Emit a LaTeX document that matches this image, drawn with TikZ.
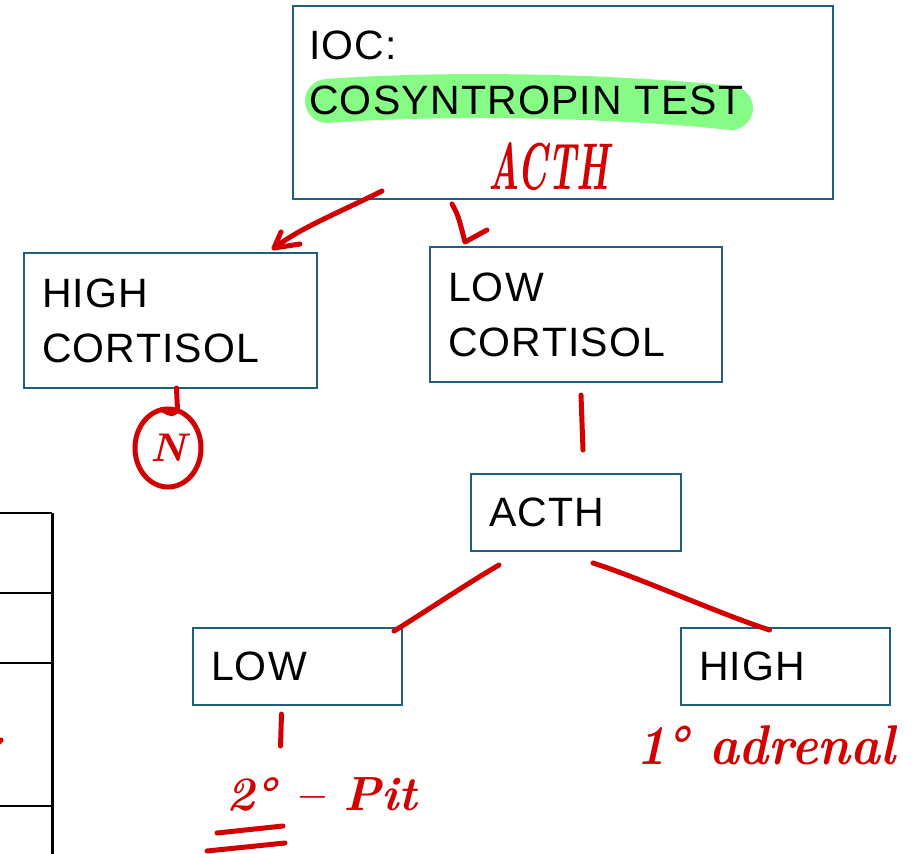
\documentclass[tikz,border=0pt]{standalone}
\usepackage{fontspec}
\usepackage{graphicx}
\usepackage{tikz,xcolor}
\usetikzlibrary{shapes.geometric,calc}
\newfontfamily\boxfont[LetterSpace=3]{Liberation Sans}
\definecolor{boxblue}{RGB}{31,94,124}
\definecolor{inkred}{RGB}{210,0,0}
\definecolor{hlgreen}{RGB}{134,252,134}

\begin{document}
\begin{tikzpicture}[x=1pt,y=-1pt,
  box/.style={draw=boxblue, line width=2pt, anchor=north west, inner xsep=18pt, inner ysep=0pt, align=left,
    font=\boxfont\fontsize{41}{55}\selectfont},
  ink/.style={draw=inkred, line width=5pt, line cap=round, line join=round},
  hand/.style={text=inkred, inner sep=0pt, font=\bfseries\itshape\fontsize{#1}{#1}\selectfont}]
  \useasboundingbox (0,0) rectangle (922,854);

  % table cut off at the left
  \draw[black, line width=2pt] (0,513) -- (52,513) (0,593) -- (52,593) (0,663) -- (52,663) (0,806) -- (52,806);
  \draw[black, line width=3pt] (52,513) -- (52,860);
  \draw[ink] (-6,747) -- (1,740);

  % boxes
  \node[box, minimum width=540, minimum height=193] (ioc) at (292,5) {};
  \draw[hlgreen, line width=44pt, line cap=round] (327,101) .. controls (450,92) and (620,96) .. (731,108);
  \node[anchor=north west, inner sep=0pt, align=left, font=\boxfont\fontsize{41}{55}\selectfont] (ioctxt) at (309,31) {IOC:\\COSYNTROPIN TEST};

  \node[box, minimum width=293, minimum height=135, text width=257] (hicort) at (23,252) {HIGH\\CORTISOL};
  \node[box, minimum width=292, minimum height=135, text width=256] (locort) at (429,246) {LOW\\CORTISOL};
  \node[box, minimum width=210, minimum height=77, text width=174] (acth) at (470,473) {ACTH};
  \node[box, minimum width=209, minimum height=77, text width=173] (low) at (192,627) {LOW};
  \node[box, minimum width=209, minimum height=77, text width=173] (high) at (680,627) {HIGH};

  % handwritten notes
  \node[hand=66, anchor=base west] (acthnote) at (488,189) {\scalebox{0.55}[1]{ACTH}};
  \node[hand=40, ellipse, draw=inkred, line width=5pt, minimum width=66, minimum height=78] (nrm) at (168,448) {N};
  \node[hand=48, anchor=base west] (pit) at (226,810) {2° – Pit};
  \node[hand=56, anchor=base west] (adr) at (636,764) {\scalebox{0.9}[1]{1° adrenal}};
  \draw[ink] (217,833) -- (283,826);
  \draw[ink] (207,851) -- (285,843);

  % connectors
  \draw[ink] ([shift={(90,-9)}]ioc.south west) .. controls (340,212) and (300,228) .. ([shift={(-44,-4)}]hicort.north east);
  \draw[ink] (281,232) -- ([shift={(-44,-4)}]hicort.north east) -- (300,244);
  \draw[ink] ([shift={(160,4)}]ioc.south west) .. controls (458,215) .. ([shift={(36,-4)}]locort.north west) -- ++(22,-12);
  \draw[ink] ([shift={(6,-1)}]hicort.south) -- ++(1,22) .. controls (172,415) .. ([shift={(-6,3)}]nrm.north);
  \draw[ink] ([shift={(5,12)}]locort.south) -- ([shift={(7,-23)}]acth.north);
  \draw[ink] ([shift={(-77,13)}]acth.south) .. controls (460,588) and (425,612) .. ([shift={(-9,4)}]low.north east);
  \draw[ink] ([shift={(17,11)}]acth.south) .. controls (640,578) and (720,614) .. ([shift={(-16,3)}]high.north);
  \draw[ink] ([shift={(-16,8)}]low.south) -- ([shift={(-17,40)}]low.south);
\end{tikzpicture}
\end{document}
